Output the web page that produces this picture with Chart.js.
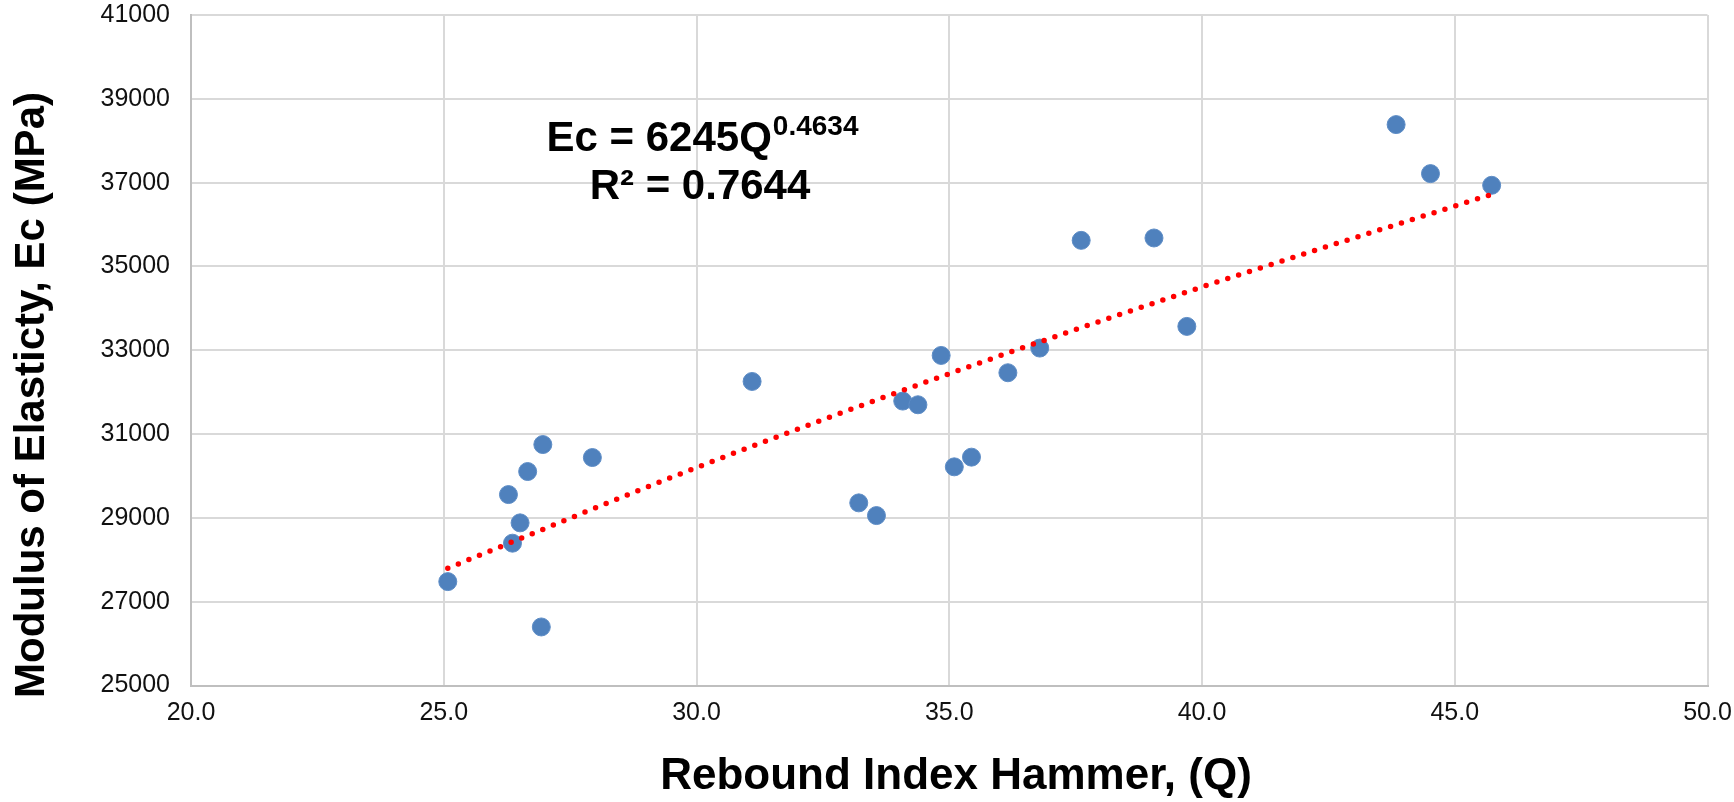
<!DOCTYPE html>
<html>
<head>
<meta charset="utf-8">
<script src="https://cdn.jsdelivr.net/npm/chart.js@4.4.1/dist/chart.umd.min.js"></script>
<style>
html,body{margin:0;padding:0;background:#ffffff;}
#wrap{width:1734px;height:802px;position:relative;}
</style>
</head>
<body>
<div id="wrap"><canvas id="c" width="1734" height="802"></canvas></div>
<script>
const reboundQ = [25.08, 26.93, 26.36, 26.51, 26.28, 26.66, 26.96, 27.94, 31.10,
                  33.21, 33.56, 34.08, 34.38, 34.84, 35.10, 35.44, 36.16, 36.79,
                  37.61, 39.05, 39.70, 43.84, 44.52, 45.73];
const modulusEc = [27479, 26397, 28396, 28881, 29556, 30106, 30750, 30440, 32255,
                   29358, 29055, 31787, 31699, 32876, 30218, 30449, 32463, 33052,
                   35622, 35679, 33569, 38385, 37215, 36936];

// Trendline points (power fit shown on the chart)
const trendQ  = [25.08, 30.0, 35.0, 40.0, 45.73];
const trendEc = [27800, 30200, 32440, 34510, 36720];

// Axis ticks
const xTicks = [20, 25, 30, 35, 40, 45, 50];
const yTicks = [25000, 27000, 29000, 31000, 33000, 35000, 37000, 39000, 41000];

// Texts
const xTitle = 'Rebound Index Hammer, (Q)';
const yTitle = 'Modulus of Elasticty, Ec (MPa)';
const eqMain = 'Ec = 6245Q';
const eqExp  = '0.4634';
const eqR2   = 'R\u00B2 = 0.7644';

const FONT = '"Liberation Sans", Arial, Helvetica, sans-serif';

const textPlugin = {
  id: 'texts',
  afterDraw(chart) {
    const ctx = chart.ctx;
    // Y axis title
    ctx.save();
    ctx.fillStyle = '#000000';
    ctx.font = 'bold 42px ' + FONT;
    ctx.textAlign = 'center';
    ctx.textBaseline = 'alphabetic';
    ctx.translate(44, 395);
    ctx.rotate(-Math.PI / 2);
    ctx.fillText(yTitle, 0, 0);
    ctx.restore();

    // X axis title
    ctx.save();
    ctx.fillStyle = '#000000';
    ctx.font = 'bold 44px ' + FONT;
    ctx.textAlign = 'center';
    ctx.textBaseline = 'alphabetic';
    ctx.fillText(xTitle, 956, 789);
    ctx.restore();

    // Trendline equation
    ctx.save();
    ctx.fillStyle = '#000000';
    ctx.textAlign = 'left';
    ctx.textBaseline = 'alphabetic';
    ctx.font = 'bold 42px ' + FONT;
    const wMain = ctx.measureText(eqMain).width;
    ctx.font = 'bold 28px ' + FONT;
    const wExp = ctx.measureText(eqExp).width;
    const x0 = 702 - (wMain + wExp) / 2;
    ctx.font = 'bold 42px ' + FONT;
    ctx.fillText(eqMain, x0, 151);
    ctx.font = 'bold 28px ' + FONT;
    ctx.fillText(eqExp, x0 + wMain + 1, 135);
    ctx.font = 'bold 42px ' + FONT;
    ctx.textAlign = 'center';
    ctx.fillText(eqR2, 700, 199);
    ctx.restore();
  }
};

const points = reboundQ.map((q, i) => ({ x: q, y: modulusEc[i] }));
const trend = trendQ.map((q, i) => ({ x: q, y: trendEc[i] }));

new Chart(document.getElementById('c'), {
  type: 'scatter',
  data: {
    datasets: [
      {
        type: 'line',
        label: 'Power trend',
        data: trend,
        order: 1,
        showLine: true,
        borderColor: '#FF0000',
        borderWidth: 5.5,
        borderDash: [0, 11.4],
        borderCapStyle: 'round',
        cubicInterpolationMode: 'monotone',
        pointRadius: 0,
        fill: false
      },
      {
        label: 'Ec',
        data: points,
        order: 2,
        backgroundColor: '#4F81BD',
        borderColor: '#5E8DC6',
        borderWidth: 1,
        pointRadius: 9,
        pointHoverRadius: 9
      }
    ]
  },
  options: {
    responsive: false,
    animation: false,
    devicePixelRatio: 1,
    layout: { padding: { top: 0, right: 0, left: 0, bottom: 0 } },
    plugins: {
      legend: { display: false },
      tooltip: { enabled: false },
      title: { display: false }
    },
    scales: {
      x: {
        type: 'linear',
        min: 20, max: 50,
        afterBuildTicks: s => { s.ticks = xTicks.map(v => ({ value: v })); },
        afterFit: s => { s.height = 116.5; s.paddingLeft = 0; s.paddingRight = 26.5; },
        grid: { color: '#D9D9D9', lineWidth: 2, drawTicks: false },
        border: { color: '#BFBFBF', width: 2 },
        ticks: {
          padding: 13,
          color: '#111111',
          font: { family: FONT, size: 25 },
          callback: v => Number(v).toFixed(1),
          maxRotation: 0
        }
      },
      y: {
        type: 'linear',
        min: 25000, max: 41000,
        afterBuildTicks: s => { s.ticks = yTicks.map(v => ({ value: v })); },
        afterFit: s => { s.width = 191; s.paddingTop = 15; s.paddingBottom = 0; },
        grid: { color: '#D9D9D9', lineWidth: 2, drawTicks: false },
        border: { color: '#BFBFBF', width: 2 },
        ticks: {
          padding: 21,
          color: '#111111',
          font: { family: FONT, size: 25 },
          callback: v => String(v)
        }
      }
    }
  },
  plugins: [textPlugin]
});
</script>
</body>
</html>
